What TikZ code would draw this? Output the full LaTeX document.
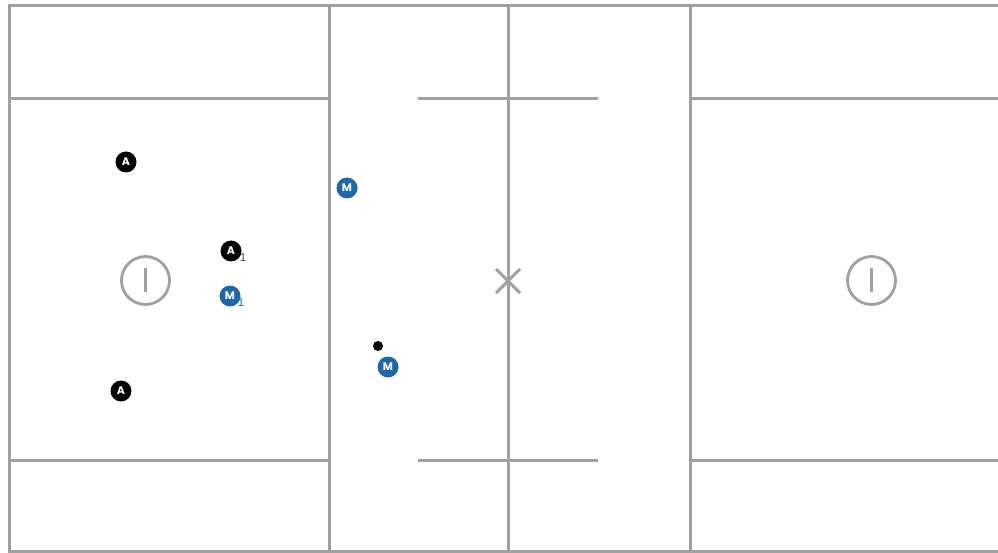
\documentclass[tikz,border=0pt]{standalone}
\usepackage{fontspec}
\newfontfamily\playerfont{Poppins}
\newfontfamily\subfont{Liberation Sans}
\usetikzlibrary{positioning}
\definecolor{linegray}{RGB}{160,160,160}
\definecolor{middieblue}{RGB}{30,104,170}

\begin{document}
\begin{tikzpicture}[x=1pt, y=-1pt,
    fieldline/.style={draw=linegray, line width=3pt},
    goalline/.style={draw=linegray, line width=2.8pt},
    player/.style={circle, inner sep=0pt, minimum size=21pt, text=white,
      font=\playerfont\bfseries\fontsize{11}{11}\selectfont},
    attack/.style={player, fill=black},
    middie/.style={player, fill=middieblue},
    sub/.style={inner sep=0pt, font=\subfont\fontsize{11.5}{11.5}\selectfont},
    ballnode/.style={circle, fill=black, inner sep=0pt, minimum size=10pt}]
  \useasboundingbox (0,0) rectangle (998,553);
  \begin{scope}
    \clip (0,0) rectangle (998,553);
    \draw[fieldline] (1010,6) -- (9,6) -- (9,551) -- (1010,551);
    \draw[fieldline] (329,6) -- (329,551);
    \draw[fieldline] (508,6) -- (508,551);
    \draw[fieldline] (690,6) -- (690,551);
    \draw[fieldline] (9,98.5) -- (329,98.5) (690,98.5) -- (1010,98.5);
    \draw[fieldline] (9,460.5) -- (329,460.5) (690,460.5) -- (1010,460.5);
    \draw[fieldline] (418,98.5) -- (598,98.5) (418,460.5) -- (598,460.5);
    \draw[fieldline] (496,269) -- (520,293) (496,293) -- (520,269);
  \end{scope}
  \draw[goalline] (145.5,280.5) circle (24);
  \draw[goalline] (145.5,268) -- (145.5,292);
  \draw[goalline] (871.5,280.5) circle (24);
  \draw[goalline] (871.5,268) -- (871.5,292);

  \node[attack] (atkOne) at (231,251) {A};
  \node[sub, text=black!70] (atkOneSub) at (243,258) {1};
  \node[middie] (midOne) at (230,296) {M};
  \node[sub, text=middieblue] (midOneSub) at (241,303) {1};
  \node[attack] (atkTop) at (126,162) {A};
  \node[attack] (atkLow) at (121,391) {A};
  \node[middie] (midTop) at (347,188) {M};
  \node[middie] (midLow) at (388,367) {M};
  \node[ballnode] (ball) at (378,346) {};
\end{tikzpicture}
\end{document}
